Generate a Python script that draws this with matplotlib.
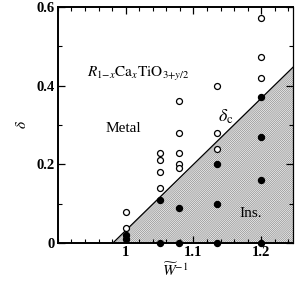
import numpy as np
import matplotlib
matplotlib.use("Agg")
import matplotlib.pyplot as plt
from matplotlib.ticker import MultipleLocator

plt.rcParams["font.family"] = ["Liberation Serif", "DejaVu Serif"]
plt.rcParams["mathtext.fontset"] = "stix"
plt.rcParams["hatch.linewidth"] = 0.4

# open circles: metal samples
open_x = [1.0, 1.0, 1.051, 1.051, 1.051, 1.051,
          1.079, 1.079, 1.079, 1.079, 1.079,
          1.134, 1.134, 1.134, 1.2, 1.2, 1.2]
open_y = [0.08, 0.038, 0.23, 0.21, 0.18, 0.14,
          0.36, 0.28, 0.23, 0.20, 0.19,
          0.40, 0.28, 0.24, 0.572, 0.472, 0.42]
# filled circles: insulating samples
fill_x = [1.0, 1.0, 1.051, 1.051, 1.079, 1.079,
          1.134, 1.134, 1.134, 1.2, 1.2, 1.2, 1.2]
fill_y = [0.02, 0.01, 0.11, 0.0, 0.09, 0.0,
          0.20, 0.10, 0.0, 0.37, 0.27, 0.16, 0.0]
# critical boundary delta_c
bound_x = [0.981, 1.25]
bound_y = [0.0, 0.452]

fig = plt.figure(figsize=(3.0, 2.87), dpi=100)
ax = fig.add_axes([0.193, 0.153, 0.784, 0.823])

ax.fill_between(bound_x, bound_y, 0, facecolor="#ececec", edgecolor="#808080",
                hatch="/" * 16, lw=0)
ax.plot(bound_x, bound_y, color="black", lw=0.9)

ax.plot(open_x, open_y, "o", mfc="white", mec="black", ms=4.3, mew=0.9,
        clip_on=False, zorder=4)
ax.plot(fill_x, fill_y, "o", color="black", ms=4.3, clip_on=False, zorder=4)

ax.set_xlim(0.9, 1.247)
ax.set_ylim(0, 0.6)
ax.xaxis.set_minor_locator(MultipleLocator(0.02))
ax.yaxis.set_minor_locator(MultipleLocator(0.1))
ax.set_xticks([1.0, 1.1, 1.2])
ax.set_xticklabels(["1", "1.1", "1.2"])
ax.set_yticks([0, 0.2, 0.4, 0.6])
ax.set_yticklabels(["0", "0.2", "0.4", "0.6"])
ax.tick_params(which="both", direction="in", top=True, right=True,
               labelsize=10.5, pad=2)
ax.tick_params(which="major", length=5, width=0.9)
ax.tick_params(which="minor", length=3, width=0.8)
for lab in ax.get_xticklabels() + ax.get_yticklabels():
    lab.set_fontweight("bold")
for s in ["left", "bottom", "top"]:
    ax.spines[s].set_linewidth(1.4)
ax.spines["right"].set_linewidth(0.9)

ax.set_xlabel(r"$\widetilde{W}^{-1}$", fontsize=11, labelpad=2)
ax.set_ylabel(r"$\delta$", fontsize=11, labelpad=6)

ax.text(1.018, 0.43, r"$R_{1\mathrm{-}x}\mathrm{Ca}_x\mathrm{TiO}_{3\mathrm{+}y/2}$",
        fontsize=11, ha="center", va="center")
ax.text(0.997, 0.29, "Metal", fontsize=11, ha="center", va="center")
ax.text(1.147, 0.32, r"$\delta_\mathrm{c}$", fontsize=13, ha="center", va="center")
ax.text(1.185, 0.075, "Ins.", fontsize=11, ha="center", va="center")

fig.savefig("out.png", dpi=100)
